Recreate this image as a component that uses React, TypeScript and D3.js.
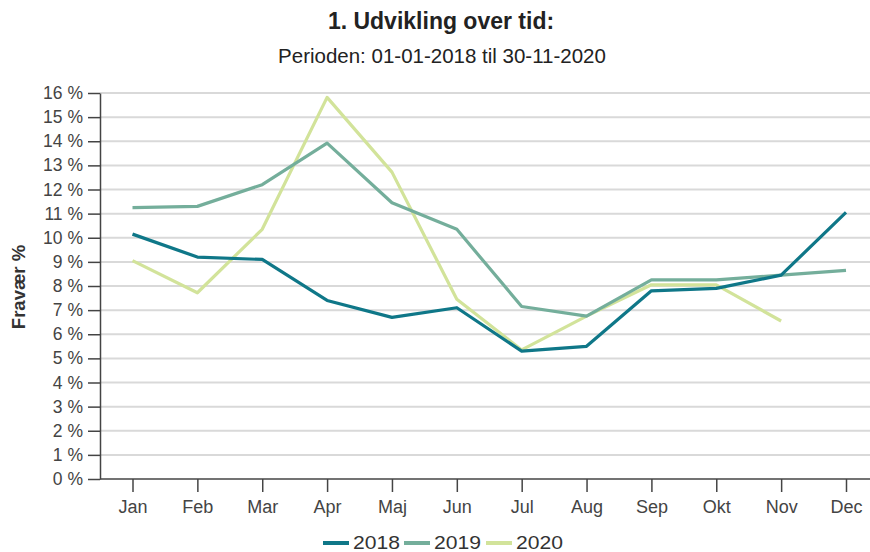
import React, { useEffect, useRef } from 'react';
import * as d3 from 'd3';

const months = ['Jan', 'Feb', 'Mar', 'Apr', 'Maj', 'Jun', 'Jul', 'Aug', 'Sep', 'Okt', 'Nov', 'Dec'];
const years = ['2018', '2019', '2020'];
const values2018 = [10.15, 9.2, 9.1, 7.4, 6.7, 7.1, 5.3, 5.5, 7.8, 7.9, 8.45, 11.05];
const values2019 = [11.25, 11.3, 12.2, 13.92, 11.45, 10.35, 7.15, 6.75, 8.25, 8.25, 8.45, 8.65];
const values2020 = [9.05, 7.72, 10.35, 15.82, 12.72, 7.45, 5.35, 6.75, 8.05, 8.05, 6.55];
const yTicks = d3.range(0, 17);

const colors = ['#0f7788', '#74ae9b', '#d2e39a'];
const font = '"Liberation Sans", Arial, sans-serif';

export default function App() {
  const ref = useRef<SVGSVGElement>(null);

  useEffect(() => {
    const svg = d3.select(ref.current);
    svg.selectAll('*').remove();

    const left = 100, right = 870, top = 93, bottom = 479;

    const x = d3.scalePoint<string>().domain(months).range([132.5, 846]);
    const y = d3.scaleLinear().domain([0, 16]).range([bottom, top]);

    // title
    svg.append('text')
      .attr('x', 441).attr('y', 29)
      .attr('text-anchor', 'middle')
      .style('font', `bold 23px ${font}`)
      .attr('fill', '#222')
      .text('1. Udvikling over tid:');
    svg.append('text')
      .attr('x', 442).attr('y', 63)
      .attr('text-anchor', 'middle')
      .style('font', `20.5px ${font}`)
      .attr('fill', '#222')
      .text('Perioden: 01-01-2018 til 30-11-2020');

    // grid
    svg.append('g')
      .selectAll('line')
      .data(yTicks.filter(d => d > 0))
      .enter()
      .append('line')
      .attr('x1', left).attr('x2', right)
      .attr('y1', d => y(d)).attr('y2', d => y(d))
      .attr('stroke', '#d9d9d9')
      .attr('stroke-width', 2);

    // y axis
    const yAxis = svg.append('g')
      .attr('transform', `translate(${left},0)`)
      .call(d3.axisLeft(y).tickValues(yTicks).tickSize(12).tickSizeOuter(0).tickPadding(5).tickFormat(d => `${d} %`));
    yAxis.select('.domain').attr('stroke', '#444').attr('stroke-width', 1.5);
    yAxis.selectAll('.tick line').attr('stroke', '#444').attr('stroke-width', 1.5);
    yAxis.selectAll('.tick text')
      .attr('fill', '#444')
      .style('font', `17.5px ${font}`);

    // x axis
    const xAxis = svg.append('g')
      .attr('transform', `translate(0,${bottom})`)
      .call(d3.axisBottom(x).tickSize(13).tickSizeOuter(0).tickPadding(8));
    xAxis.select('.domain').attr('d', `M${left},0H${right}`).attr('stroke', '#444').attr('stroke-width', 1.5);
    xAxis.selectAll('.tick line').attr('stroke', '#444').attr('stroke-width', 1.5);
    xAxis.selectAll('.tick text')
      .attr('fill', '#444')
      .style('font', `18px ${font}`);

    // y title
    svg.append('text')
      .attr('transform', 'translate(25,287) rotate(-90)')
      .attr('text-anchor', 'middle')
      .style('font', `bold 18.5px ${font}`)
      .attr('fill', '#333')
      .text('Fravær %');

    // lines
    const line = d3.line<number>()
      .x((d, i) => x(months[i]) as number)
      .y(d => y(d));

    const series = [values2018, values2019, values2020];
    // 2020 first, so the darker lines lie on top as in the reference
    [2, 1, 0].forEach(i => {
      svg.append('path')
        .datum(series[i])
        .attr('d', line)
        .attr('fill', 'none')
        .attr('stroke', colors[i])
        .attr('stroke-width', 3.2)
        .attr('stroke-linejoin', 'round');
    });

    // legend
    const legendX = [323, 404, 486];
    const legend = svg.append('g');
    years.forEach((yr, i) => {
      legend.append('line')
        .attr('x1', legendX[i]).attr('x2', legendX[i] + 26)
        .attr('y1', 543).attr('y2', 543)
        .attr('stroke', colors[i])
        .attr('stroke-width', 4);
      legend.append('text')
        .attr('x', legendX[i] + 30).attr('y', 549)
        .attr('textLength', 47)
        .attr('lengthAdjust', 'spacingAndGlyphs')
        .style('font', `19px ${font}`)
        .attr('fill', '#333')
        .text(yr);
    });
  }, []);

  return (
    <svg ref={ref} width={870} height={552} style={{ position: 'absolute', left: 0, top: 0, background: '#fff' }} />
  );
}
